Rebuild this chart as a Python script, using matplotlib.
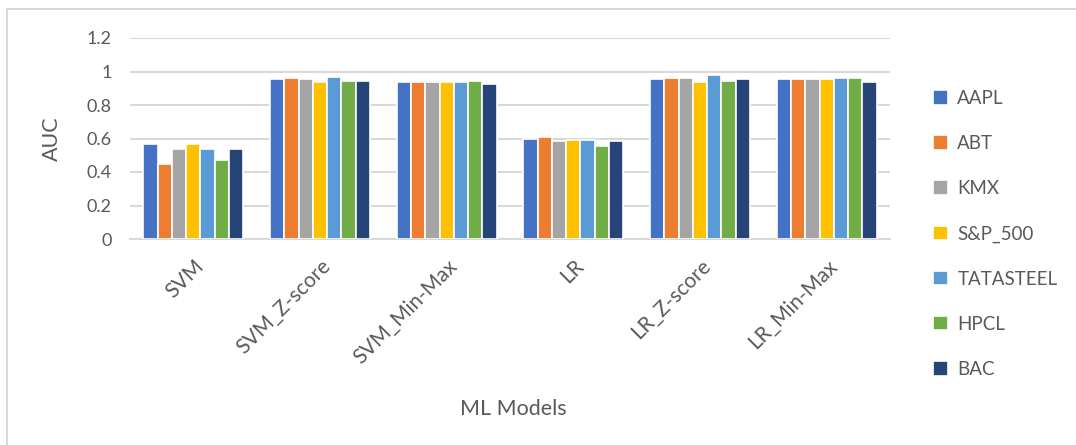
import numpy as np
import matplotlib
matplotlib.use("Agg")
import matplotlib.pyplot as plt
from matplotlib.lines import Line2D

plt.rcParams["font.family"] = ["Lato", "DejaVu Sans"]

models = ["SVM", "SVM_Z-score", "SVM_Min-Max", "LR", "LR_Z-score", "LR_Min-Max"]
series = ["AAPL", "ABT", "KMX", "S&P_500", "TATASTEEL", "HPCL", "BAC"]
colors = ["#4472C4", "#ED7D31", "#A5A5A5", "#FFC000", "#5B9BD5", "#70AD47", "#264478"]

# AUC values, one list per stock, in the order of models
aapl = [0.568, 0.954, 0.940, 0.600, 0.954, 0.954]
abt = [0.446, 0.962, 0.940, 0.608, 0.962, 0.954]
kmx = [0.538, 0.954, 0.940, 0.586, 0.962, 0.954]
sp500 = [0.568, 0.940, 0.940, 0.594, 0.940, 0.954]
tatasteel = [0.538, 0.970, 0.940, 0.594, 0.978, 0.962]
hpcl = [0.470, 0.946, 0.946, 0.554, 0.946, 0.962]
bac = [0.538, 0.946, 0.924, 0.586, 0.954, 0.940]
values = [aapl, abt, kmx, sp500, tatasteel, hpcl, bac]

yticks = [0, 0.2, 0.4, 0.6, 0.8, 1, 1.2]
ytick_labels = ["0", "0.2", "0.4", "0.6", "0.8", "1", "1.2"]

text_color = "#595959"

fig = plt.figure(figsize=(10.76, 4.45), dpi=100)
ax = fig.add_axes([130 / 1076, 1 - 239 / 445, 760 / 1076, (239 - 38) / 445])

x = np.arange(len(models))
n = len(series)
group_w = 0.79
bar_w = group_w / n
for i, (name, vals) in enumerate(zip(series, values)):
    offs = -group_w / 2 + bar_w * (i + 0.5)
    ax.bar(x + offs, vals, width=bar_w, color=colors[i], edgecolor="white",
           linewidth=1.2, label=name, zorder=3)

ax.set_xlim(-0.5, len(models) - 0.5)
ax.set_ylim(0, 1.2)
ax.set_yticks(yticks)
ax.set_yticklabels(ytick_labels)
ax.set_xticks(x)
ax.set_xticklabels(models, rotation=45, ha="right", va="top", rotation_mode="anchor")
ax.grid(axis="y", color="#D9D9D9", linewidth=1.5, zorder=0)
for s in ["top", "right", "left"]:
    ax.spines[s].set_visible(False)
ax.spines["bottom"].set_color("#D9D9D9")
ax.spines["bottom"].set_linewidth(1.5)
ax.tick_params(axis="both", length=0, colors=text_color)
ax.tick_params(axis="y", pad=13, labelsize=13)
ax.tick_params(axis="x", pad=12, labelsize=15)

ax.set_ylabel("AUC", fontsize=15.5, color=text_color)
ax.yaxis.set_label_coords(-0.09, 0.5)
ax.set_xlabel("ML Models", fontsize=15.5, color=text_color)
ax.xaxis.set_label_coords(0.505, -0.795)

leg = fig.legend(loc="upper left", bbox_to_anchor=(916 / 1076, 1 - 73 / 445),
                 frameon=False, fontsize=13.5, handlelength=0.8, handleheight=0.8,
                 handletextpad=0.5, labelspacing=1.5, labelcolor=text_color)

# chart frame (only top and left edges are visible in the picture)
fig.add_artist(Line2D([7 / 1076, 1], [1 - 9 / 445, 1 - 9 / 445], color="#D9D9D9", linewidth=1.5))
fig.add_artist(Line2D([7 / 1076, 7 / 1076], [0, 1 - 9 / 445], color="#D9D9D9", linewidth=1.5))

fig.savefig("out.png", dpi=100)
